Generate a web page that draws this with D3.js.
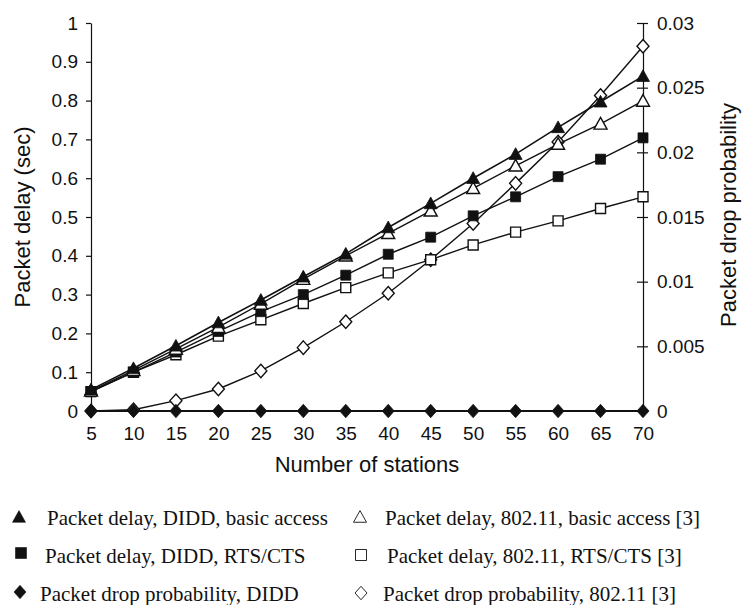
<!DOCTYPE html>
<html>
<head>
<meta charset="utf-8">
<script src="https://cdn.jsdelivr.net/npm/d3@7"></script>
<style>
  html, body { margin: 0; padding: 0; background: #fff; }
  svg { display: block; }
</style>
</head>
<body>
<svg id="chart" width="742" height="605"></svg>
<script>
// ---- Data ----
const stations = [5, 10, 15, 20, 25, 30, 35, 40, 45, 50, 55, 60, 65, 70];
const delayDiddBasic  = [0.055, 0.110, 0.168, 0.228, 0.286, 0.346, 0.405, 0.473, 0.535, 0.600, 0.662, 0.731, 0.797, 0.863];
const delay80211Basic = [0.052, 0.105, 0.160, 0.216, 0.276, 0.340, 0.400, 0.458, 0.516, 0.574, 0.632, 0.688, 0.740, 0.799];
const delayDiddRts    = [0.050, 0.100, 0.152, 0.205, 0.256, 0.300, 0.350, 0.404, 0.448, 0.503, 0.552, 0.604, 0.649, 0.704];
const delay80211Rts   = [0.050, 0.100, 0.145, 0.193, 0.235, 0.277, 0.318, 0.356, 0.390, 0.428, 0.461, 0.490, 0.522, 0.552];
const dropDidd        = [0, 0, 0, 0, 0, 0, 0, 0, 0, 0, 0, 0, 0, 0];
const drop80211       = [0, 0.0001, 0.0008, 0.0017, 0.0031, 0.0049, 0.0069, 0.0091, 0.0117, 0.0145, 0.0176, 0.0208, 0.0244, 0.0282];
const leftTicks  = [0, 0.1, 0.2, 0.3, 0.4, 0.5, 0.6, 0.7, 0.8, 0.9, 1];
const rightTicks = [0, 0.005, 0.01, 0.015, 0.02, 0.025, 0.03];
const xTicks = stations;
const xTitle = "Number of stations";
const yLeftTitle = "Packet delay (sec)";
const yRightTitle = "Packet drop probability";
const legendLabels = [
  "Packet delay, DIDD, basic access",
  "Packet delay, 802.11, basic access [3]",
  "Packet delay, DIDD, RTS/CTS",
  "Packet delay, 802.11, RTS/CTS [3]",
  "Packet drop probability, DIDD",
  "Packet drop probability, 802.11 [3]"
];

// ---- Setup ----
const svg = d3.select("#chart");
const sansFont = "'Liberation Sans', Arial, Helvetica, sans-serif";
const serifFont = "'Liberation Serif', 'Times New Roman', serif";

const x = d3.scaleLinear().domain([5, 70]).range([91, 643]);
const yL = d3.scaleLinear().domain([0, 1]).range([411, 23]);
const yR = d3.scaleLinear().domain([0, 0.03]).range([411, 23]);

// marker shape paths
function markerPath(shape, s) {
  const p = d3.path();
  if (shape === "triangle") {
    const w = s, h = s * 0.9;
    p.moveTo(0, -h * 0.55); p.lineTo(w / 2, h * 0.45); p.lineTo(-w / 2, h * 0.45); p.closePath();
  } else if (shape === "square") {
    const h = s / 2;
    p.rect(-h, -h, s, s);
  } else {
    const w = s / 2, h = s * 0.56;
    p.moveTo(0, -h); p.lineTo(w, 0); p.lineTo(0, h); p.lineTo(-w, 0); p.closePath();
  }
  return p.toString();
}

const series = [
  { values: drop80211,       scale: yR, shape: "diamond",  filled: false, size: 12, lw: 1.4 },
  { values: delay80211Rts,   scale: yL, shape: "square",   filled: false, size: 10, lw: 1.4 },
  { values: delayDiddRts,    scale: yL, shape: "square",   filled: true,  size: 10, lw: 1.4 },
  { values: delay80211Basic, scale: yL, shape: "triangle", filled: false, size: 13, lw: 1.4 },
  { values: delayDiddBasic,  scale: yL, shape: "triangle", filled: true,  size: 13, lw: 1.6 },
  { values: dropDidd,        scale: yR, shape: "diamond",  filled: true,  size: 12, lw: 2.2 }
];

// ---- Axes ----
const gLeft = svg.append("g").attr("transform", "translate(91,0)")
  .call(d3.axisLeft(yL).tickValues(leftTicks).tickSize(5).tickSizeOuter(0).tickPadding(8)
    .tickFormat(d3.format("~g")));
const gRight = svg.append("g").attr("transform", "translate(643,0)")
  .call(d3.axisRight(yR).tickValues(rightTicks).tickSize(5).tickSizeOuter(0).tickPadding(9)
    .tickFormat(d3.format("~g")));
gRight.selectAll(".tick line").attr("x1", -6).attr("x2", 5);
const gBottom = svg.append("g").attr("transform", "translate(0,411)")
  .call(d3.axisBottom(x).tickValues(xTicks).tickSize(0).tickSizeOuter(0).tickPadding(16)
    .tickFormat(d3.format("d")));

[gLeft, gRight, gBottom].forEach(g => {
  g.selectAll("text").attr("font-family", sansFont).attr("font-size", 19).attr("fill", "#111");
  g.selectAll("line, path").attr("stroke", "#111").attr("stroke-width", 1.2);
});

// ---- Series ----
series.forEach(s => {
  const pts = stations.map((st, i) => [x(st), s.scale(s.values[i])]);
  svg.append("path")
    .attr("d", d3.line()(pts))
    .attr("fill", "none").attr("stroke", "#111").attr("stroke-width", s.lw);
  svg.append("g").selectAll("path").data(pts).join("path")
    .attr("transform", d => `translate(${d[0]},${d[1]})`)
    .attr("d", markerPath(s.shape, s.size))
    .attr("fill", s.filled ? "#111" : "#fff")
    .attr("stroke", "#111").attr("stroke-width", s.filled ? 0.8 : 1.4);
});

// ---- Axis titles ----
svg.append("text").attr("x", 367).attr("y", 472).attr("text-anchor", "middle")
  .attr("font-family", sansFont).attr("font-size", 22).attr("fill", "#111").text(xTitle);
svg.append("text").attr("transform", "translate(30,217) rotate(-90)").attr("text-anchor", "middle")
  .attr("font-family", sansFont).attr("font-size", 22).attr("fill", "#111").text(yLeftTitle);
svg.append("text").attr("transform", "translate(736,215) rotate(-90)").attr("text-anchor", "middle")
  .attr("font-family", sansFont).attr("font-size", 22).attr("fill", "#111").text(yRightTitle);

// ---- Legend ----
const legendItems = [
  { shape: "triangle", filled: true,  mx: 19,  my: 517, tx: 47,  ty: 525, size: 13 },
  { shape: "triangle", filled: false, mx: 360, my: 517, tx: 385, ty: 525, size: 13 },
  { shape: "square",   filled: true,  mx: 21,  my: 553, tx: 45,  ty: 563, size: 11 },
  { shape: "square",   filled: false, mx: 361, my: 555, tx: 387, ty: 563, size: 11 },
  { shape: "diamond",  filled: true,  mx: 20,  my: 592, tx: 40,  ty: 601, size: 12 },
  { shape: "diamond",  filled: false, mx: 361, my: 593, tx: 383, ty: 601, size: 12 }
];
legendItems.forEach((it, i) => {
  svg.append("path")
    .attr("transform", `translate(${it.mx},${it.my})`)
    .attr("d", markerPath(it.shape, it.size))
    .attr("fill", it.filled ? "#111" : "#fff")
    .attr("stroke", "#111").attr("stroke-width", it.filled ? 0.6 : 0.9);
  svg.append("text").attr("x", it.tx).attr("y", it.ty)
    .attr("font-family", serifFont).attr("font-size", 21).attr("fill", "#111")
    .text(legendLabels[i]);
});
</script>
</body>
</html>
